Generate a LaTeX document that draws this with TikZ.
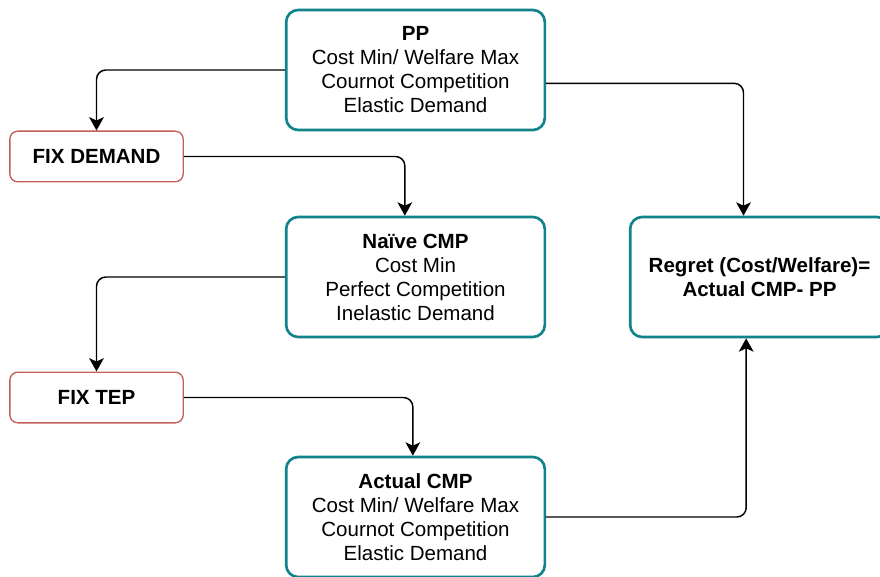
\documentclass[tikz,border=0pt]{standalone}
\usepackage{fontspec}
\setmainfont{Liberation Sans}
\usetikzlibrary{arrows.meta}
\definecolor{tealline}{HTML}{12838A}
\definecolor{redline}{HTML}{C0605B}
\newcommand{\boxfont}{\fontsize{15.4}{18}\selectfont}
\begin{document}
\begin{tikzpicture}[x=0.75pt, y=-0.75pt, >={Stealth[length=10pt,width=11pt,inset=2.5pt]},
  model/.style={draw=tealline, line width=2pt, rounded corners=9pt, align=center, minimum width=194pt, minimum height=90pt, font=\boxfont},
  fixbox/.style={draw=redline, line width=1pt, rounded corners=6pt, minimum width=130pt, minimum height=38pt, font=\boxfont\bfseries},
  link/.style={->, line width=1.1pt, rounded corners=7pt}]
	\useasboundingbox (0,0) rectangle (880,577);

	\node[model] (pp) at (415.5,70) {\textbf{PP}\\Cost Min/ Welfare Max\\Cournot Competition\\Elastic Demand};
	\node[fixbox] (fixdemand) at (96.5,156.5) {FIX DEMAND};
	\node[model] (naive) at (415.5,277) {\textbf{Naïve CMP}\\Cost Min\\Perfect Competition\\Inelastic Demand};
	\node[model] (regret) at (759.5,277) {\textbf{Regret (Cost/Welfare)=}\\\textbf{Actual CMP- PP}};
	\node[fixbox] (fixtep) at (96.5,397.5) {FIX TEP};
	\node[model] (actual) at (415.5,517) {\textbf{Actual CMP}\\Cost Min/ Welfare Max\\Cournot Competition\\Elastic Demand};

	\draw[link] (pp.west) -| (fixdemand.north);
	\draw[link] (fixdemand.east) -| ([xshift=-8pt]naive.north);
	\draw[link] (naive.west) -| (fixtep.north);
	\draw[link] (fixtep.east) -| ([xshift=-2pt]actual.north);
	\draw[link] ([yshift=-10pt]pp.east) -| ([xshift=-12pt]regret.north);
	\draw[link] (actual.east) -| ([xshift=-10pt]regret.south);
\end{tikzpicture}
\end{document}
